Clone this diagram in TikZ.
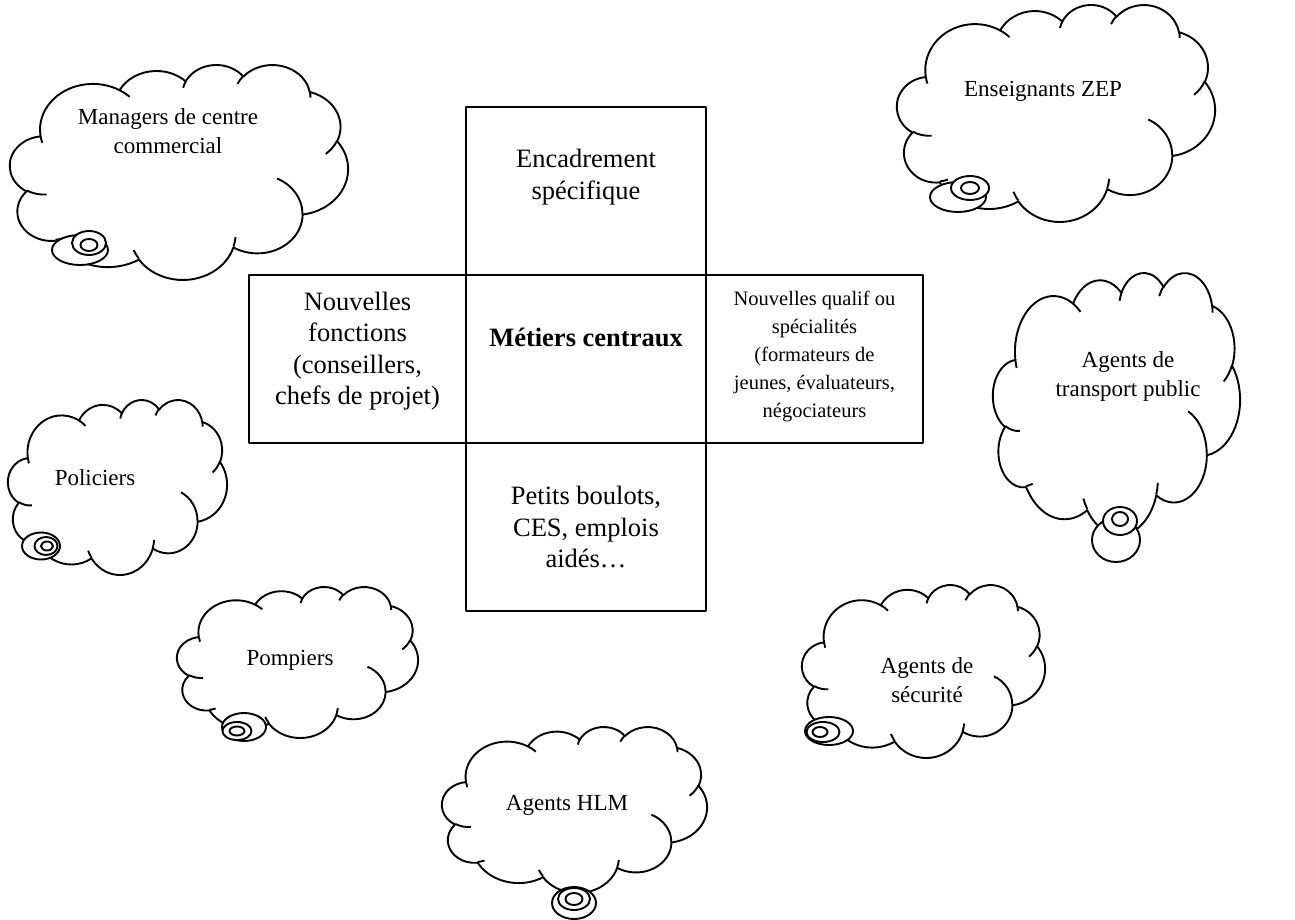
\documentclass[tikz,border=0pt]{standalone}
\usepackage{fontspec}
\setmainfont{Liberation Serif}
\tikzset{
  ln/.style={line width=1.9pt, line join=round},
  boxn/.style={draw, ln, inner sep=0pt},
  boxtxt/.style={align=center, inner sep=0pt, font=\fontsize{26.5}{31.5}\selectfont},
  smalltxt/.style={align=center, inner sep=0pt, font=\fontsize{20.5}{28}\selectfont},
  cloudtxt/.style={align=center, inner sep=0pt, font=\fontsize{23}{29}\selectfont},
  bub/.style={ln, fill=white}
}
% arc of an OOXML-style ellipse: visual start angle #3, sweep #4
\newcommand\oarc[4]{arc[x radius=#1, y radius=#2,
  start angle={atan2((#1)*sin(#3),(#2)*cos(#3))},
  delta angle={mod(atan2((#1)*sin((#3)+(#4)),(#2)*cos((#3)+(#4)))-atan2((#1)*sin(#3),(#2)*cos(#3))+720,360)}]}
% cloud: left, right, top, bottom (visible extents, px)
\newcommand\wcloud[4]{%
  \pgfmathsetmacro\wcsx{(#2-#1)/432}%
  \pgfmathsetmacro\wcsy{(#4-#3)/432.2}%
  \pgfmathsetmacro\wcoy{#3-1.4*\wcsy}%
  \begin{scope}[shift={(#1,\wcoy)},xscale=\wcsx,yscale=\wcsy]
    \draw[ln,fill=white] (39.00,143.70)
      \oarc{67.53}{91.90}{-190.4875}{123.7805}
      \oarc{53.33}{72.67}{-144.1024}{89.9452}
      \oarc{43.65}{59.45}{-145.8079}{99.7230}
      \oarc{48.57}{65.95}{-130.9861}{117.2417}
      \oarc{53.33}{72.73}{-78.7089}{109.0269}
      \oarc{67.75}{92.20}{-46.2673}{130.2690}
      \oarc{57.85}{78.67}{0.6250}{114.0333}
      \oarc{67.52}{92.15}{22.4516}{115.1726}
      \oarc{77.20}{105.43}{66.2426}{75.7110}
      \oarc{43.60}{59.18}{-274.9421}{146.7356}
      \oarc{43.45}{59.45}{-246.8285}{152.5189} -- cycle;
    \draw[ln]
      (46.93,261.77) \oarc{43.45}{59.45}{86.7420}{26.4295}
      (69.28,348.99) \oarc{43.60}{59.18}{73.6105}{11.4475}
      (164.78,390.90) \oarc{67.52}{92.15}{137.6242}{14.0811}
      (288.27,347.51) \oarc{67.52}{92.15}{6.4533}{15.9984}
      (341.29,229.54) \oarc{57.85}{78.67}{-70.2924}{70.9174}
      (417.98,153.54) \oarc{53.33}{72.73}{30.3180}{27.7515}
      (383.24,54.26) \oarc{48.57}{65.95}{-13.7443}{14.8589}
      (290.78,39.52) \oarc{48.57}{65.95}{-149.1815}{18.1954}
      (221.41,47.20) \oarc{43.65}{59.45}{-163.4943}{17.6864}
      (140.00,51.92) \oarc{67.53}{91.90}{-66.7070}{12.3194}
      (41.27,157.89) \oarc{67.53}{91.90}{157.6544}{11.8582};
  \end{scope}}
\begin{document}
\begin{tikzpicture}[x=1pt,y=-1pt]
\useasboundingbox (0,0) rectangle (1295,920);

% ---- central cross of boxes ----
\node[boxn, minimum width=240pt, minimum height=168pt] (top)    at (586,191) {};
\node[boxn, minimum width=217pt, minimum height=168pt] (left)   at (357.5,359) {};
\node[boxn, minimum width=240pt, minimum height=168pt] (center) at (586,359) {};
\node[boxn, minimum width=217pt, minimum height=168pt] (right)  at (814.5,359) {};
\node[boxn, minimum width=240pt, minimum height=168pt] (bottom) at (586,527) {};

\node[boxtxt] (ttop) at (586,177) {Encadrement\\spécifique};
\node[boxtxt] (tleft) at (357.5,351) {Nouvelles\\fonctions\\(conseillers,\\chefs de projet)};
\node[boxtxt, font=\bfseries\fontsize{26.5}{31.5}\selectfont] (tcenter) at (586,337) {Métiers centraux};
\node[smalltxt] (tright) at (814.5,356) {Nouvelles qualif ou\\spécialités\\(formateurs de\\jeunes, évaluateurs,\\négociateurs};
\node[boxtxt] (tbottom) at (586,527) {Petits boulots,\\CES, emplois\\aidés…};

% ---- clouds ----
\wcloud{10}{348}{65}{280}
\draw[bub] (80,250) ellipse [x radius=28, y radius=15];
\draw[bub] (89,243) ellipse [x radius=17, y radius=12];
\draw[bub] (89,245) ellipse [x radius=8.5, y radius=6];
\node[cloudtxt] (c1) at (168,131) {Managers de centre\\commercial};

\wcloud{897}{1215}{5}{222}
\draw[bub] (958,197) ellipse [x radius=28, y radius=15];
\draw[bub] (970,188) ellipse [x radius=19, y radius=12];
\draw[bub] (970,188) ellipse [x radius=9, y radius=6];
\node[cloudtxt] (c2) at (1043,91) {Enseignants ZEP};

\wcloud{993}{1240}{273}{535}
\draw[bub] (1116,540) ellipse [x radius=24, y radius=22];
\draw[bub] (1120,521) ellipse [x radius=17, y radius=14];
\draw[bub] (1120,519) ellipse [x radius=8, y radius=7];
\node[cloudtxt] (c3) at (1128,376) {Agents de\\transport public};

\wcloud{8}{227}{400}{575}
\draw[bub] (41,546) ellipse [x radius=19, y radius=13.5];
\draw[bub] (46,546) ellipse [x radius=11.5, y radius=9];
\draw[bub] (47,546) ellipse [x radius=6, y radius=4.5];
\node[cloudtxt] (c4) at (95,478) {Policiers};

\wcloud{177}{418}{587}{738}
\draw[bub] (244,727) ellipse [x radius=22, y radius=14];
\draw[bub] (237,731) ellipse [x radius=14.5, y radius=9];
\draw[bub] (237,731) ellipse [x radius=7.5, y radius=4.5];
\node[cloudtxt] (c5) at (290,660) {Pompiers};

\wcloud{442}{707}{727}{893}
\draw[bub] (574,903) ellipse [x radius=22, y radius=16];
\draw[bub] (574,899) ellipse [x radius=16, y radius=11];
\draw[bub] (574,899) ellipse [x radius=8.5, y radius=6];
\node[cloudtxt] (c6) at (567,805) {Agents HLM};

\wcloud{802}{1045}{585}{758}
\draw[bub] (829,731) ellipse [x radius=24, y radius=14];
\draw[bub] (823,732) ellipse [x radius=16.5, y radius=10];
\draw[bub] (820,732) ellipse [x radius=7.5, y radius=5];
\node[cloudtxt] (c7) at (927,680) {Agents de\\sécurité};
\end{tikzpicture}
\end{document}
